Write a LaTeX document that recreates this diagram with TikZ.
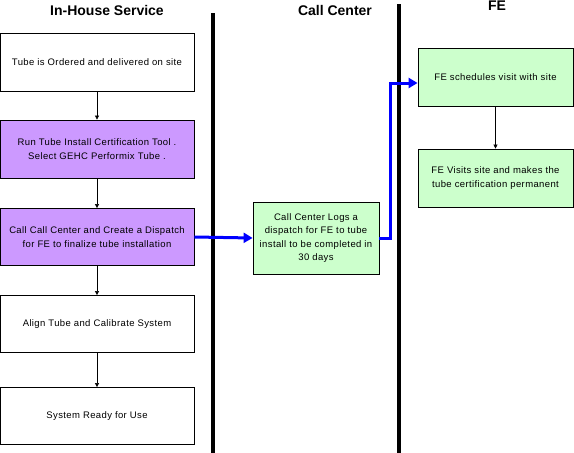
\documentclass[tikz,border=0pt]{standalone}
\usepackage{fontspec}
\setmainfont{Liberation Sans}
\usetikzlibrary{arrows.meta}
\definecolor{lpurple}{HTML}{CC99FF}
\definecolor{lgreen}{HTML}{CCFFCC}
\begin{document}
\begin{tikzpicture}[x=1pt,y=-1pt,
  box/.style={draw=black,line width=0.8pt,inner sep=0pt,align=center,font=\fontsize{9.5}{13.5}\selectfont\addfontfeatures{LetterSpace=4}},
  title/.style={font=\bfseries\fontsize{14}{16}\selectfont},
  flow/.style={-{Triangle[length=4pt,width=4pt]},line width=0.6pt},
  blue flow/.style={-{Triangle[length=9pt,width=10pt]},draw={rgb,255:red,0;green,0;blue,255},line width=3pt},
  lane/.style={line width=4pt}]
\useasboundingbox (0,0) rectangle (574,453);
% lanes
\draw[lane] (213,13) coordinate (l1t) -- (213,453) coordinate (l1b);
\draw[lane] (399,4) coordinate (l2t) -- (399,453) coordinate (l2b);
% titles
\node[title] (t1) at (107,10) {In-House Service};
\node[title] (t2) at (335,10) {Call Center};
\node[title] (t3) at (497,6) {FE};
% left boxes
\node[box,fill=white,minimum width=194pt,minimum height=58pt] (b1) at (97,62) {Tube is Ordered and delivered on site};
\node[box,fill=lpurple,minimum width=194pt,minimum height=58pt] (b2) at (97,149) {Run Tube Install Certification Tool .\\Select GEHC Performix Tube .};
\node[box,fill=lpurple,minimum width=194pt,minimum height=57pt] (b3) at (97,237) {Call Call Center and Create a Dispatch\\for FE to finalize tube installation};
\node[box,fill=white,minimum width=194pt,minimum height=57pt] (b4) at (97,324) {Align Tube and Calibrate System};
\node[box,fill=white,minimum width=194pt,minimum height=57pt] (b5) at (97,416) {System Ready for Use};
% call center box
\node[box,fill=lgreen,minimum width=126pt,minimum height=72pt] (c1) at (316,238) {Call Center Logs a\\dispatch for FE to tube\\install to be completed in\\30 days};
% FE boxes
\node[box,fill=lgreen,minimum width=155pt,minimum height=58pt] (f1) at (495.5,77) {FE schedules visit with site};
\node[box,fill=lgreen,minimum width=155pt,minimum height=58pt] (f2) at (495.5,178) {FE Visits site and makes the\\tube certification permanent};
% black arrows
\draw[flow] (b1.south) -- (b2.north);
\draw[flow] (b2.south) -- (b3.north);
\draw[flow] (b3.south) -- (b4.north);
\draw[flow] (b4.south) -- (b5.north);
\draw[flow] (f1.south) -- (f2.north);
% blue arrows
\draw[blue flow] (b3.east) -- (c1.west);
\coordinate (jog) at (390,83);
\draw[blue flow] (c1.east) -| (jog) -- (f1.west |- jog);
\end{tikzpicture}
\end{document}
